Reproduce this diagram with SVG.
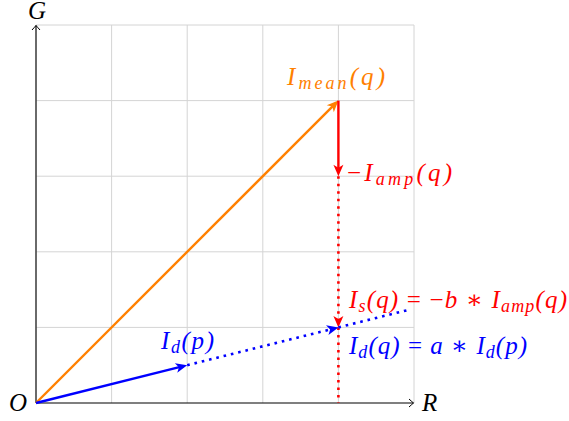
<svg xmlns="http://www.w3.org/2000/svg" width="569" height="421" viewBox="0 0 569 421">
<style>
.grid{stroke:#d4d4d4;stroke-width:1;fill:none}
.axis{stroke:#000;stroke-width:1.1;fill:none}
.lbl{font-family:"Liberation Serif","DejaVu Serif",serif;font-style:italic;font-size:25px}
.sub{font-size:18px}
.op{font-style:normal}
.orange{stroke:#ff8000}
.red{stroke:#ff0000}
.blue{stroke:#0000ff}
.vec{stroke-width:2.4;fill:none}
.dot{stroke-width:2.6;stroke-dasharray:2.6 4.9;fill:none}
</style>
<defs>
<marker id="ax" markerUnits="userSpaceOnUse" markerWidth="12" markerHeight="12" refX="0" refY="0" orient="auto" overflow="visible">
<path d="M-4.5,-4 Q-1.2,-1 0,0 Q-1.2,1 -4.5,4" fill="none" stroke="#000" stroke-width="1"/>
</marker>
<marker id="mo" markerUnits="userSpaceOnUse" markerWidth="20" markerHeight="20" refX="0" refY="0" orient="auto" overflow="visible">
<path d="M4,0 L-7.5,-5 L-4.5,0 L-7.5,5 Z" fill="#ff8000"/>
</marker>
<marker id="mr" markerUnits="userSpaceOnUse" markerWidth="20" markerHeight="20" refX="0" refY="0" orient="auto" overflow="visible">
<path d="M4,0 L-7.5,-5 L-4.5,0 L-7.5,5 Z" fill="#ff0000"/>
</marker>
<marker id="mb" markerUnits="userSpaceOnUse" markerWidth="20" markerHeight="20" refX="0" refY="0" orient="auto" overflow="visible">
<path d="M4,0 L-7.5,-5 L-4.5,0 L-7.5,5 Z" fill="#0000ff"/>
</marker>
</defs>
<g id="grid">
<path class="grid" d="M36,25V403M111.6,25V403M187.2,25V403M262.8,25V403M338.4,25V403M414,25V403M36,25H414M36,100.6H414M36,176.2H414M36,251.8H414M36,327.4H414"/>
</g>
<g id="axes">
<path class="axis" d="M36,403V25.5" marker-end="url(#ax)"/>
<path class="axis" d="M36,403H413.5" marker-end="url(#ax)"/>
</g>
<g id="connectors">
<path class="vec orange" d="M36,403L335.57,103.43" marker-end="url(#mo)"/>
<path class="vec red" d="M338.4,100.6V172.2" marker-end="url(#mr)"/>
<path class="dot red" d="M338.4,176.2V323.4" marker-end="url(#mr)"/>
<path class="dot red" d="M338.4,327.4V403"/>
<path class="vec blue" d="M36,403L183.32,366.17" marker-end="url(#mb)"/>
<path class="dot blue" d="M187.2,365.2L334.52,328.37" marker-end="url(#mb)"/>
<path class="dot blue" d="M338.4,327.4L410,309.5"/>
</g>
<g id="label-G"><text class="lbl" x="28" y="19">G</text></g>
<g id="label-O"><text class="lbl" x="9" y="411">O</text></g>
<g id="label-R"><text class="lbl" x="422" y="411">R</text></g>
<g id="node-Imean">
<text class="lbl" x="287" y="85" fill="#ff8000" textLength="98" lengthAdjust="spacing">I<tspan class="sub" dy="4">mean</tspan><tspan dy="-4">(q)</tspan></text>
</g>
<g id="node-Iamp">
<text class="lbl" x="347" y="181" fill="#ff0000" textLength="105" lengthAdjust="spacing"><tspan class="op">−</tspan>I<tspan class="sub" dy="4">amp</tspan><tspan dy="-4">(q)</tspan></text>
</g>
<g id="node-Is">
<text class="lbl" x="349" y="308" fill="#ff0000" textLength="218" lengthAdjust="spacing">I<tspan class="sub" dy="4">s</tspan><tspan dy="-4">(q) </tspan><tspan class="op">= −</tspan>b <tspan class="op">∗</tspan> I<tspan class="sub" dy="4">amp</tspan><tspan dy="-4">(q)</tspan></text>
</g>
<g id="node-Idq">
<text class="lbl" x="349" y="354" fill="#0000ff" textLength="178" lengthAdjust="spacing">I<tspan class="sub" dy="4">d</tspan><tspan dy="-4">(q) </tspan><tspan class="op">=</tspan> a <tspan class="op">∗</tspan> I<tspan class="sub" dy="4">d</tspan><tspan dy="-4">(p)</tspan></text>
</g>
<g id="node-Idp">
<text class="lbl" x="161" y="349" fill="#0000ff" textLength="53" lengthAdjust="spacing">I<tspan class="sub" dy="4">d</tspan><tspan dy="-4">(p)</tspan></text>
</g>
</svg>
